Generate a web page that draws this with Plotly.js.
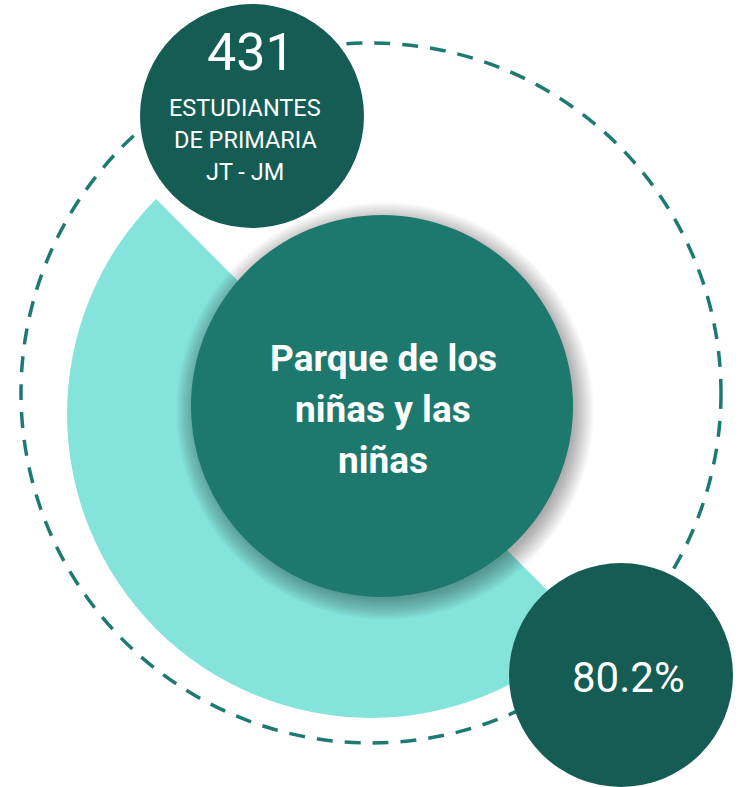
<!DOCTYPE html>
<html>
<head>
<meta charset="utf-8">
<script src="https://cdn.plot.ly/plotly-3.0.1.min.js"></script>
<style>
  html, body { margin: 0; padding: 0; background: #ffffff; }
  #chart { width: 744px; height: 787px; }
</style>
</head>
<body>
<div id="chart"></div>
<script>
// ---- data ----
const wedgeLabels = ['Resto', 'Parque'];
const wedgeShare = [50, 50];
const studentCount = 431;
const studentLabel = ['ESTUDIANTES', 'DE PRIMARIA', 'JT - JM'];
const percentValue = 80.2;
const centerTitle = ['Parque de los', 'niñas y las', 'niñas'];

// ---- layout constants (pixels) ----
const W = 744, H = 787;
const C_DARK = '#155C55', C_MID = '#1D786E', C_LIGHT = '#84E3DB', C_DASH = '#1D7A70';
const wedge = {cx: 371, cy: 414, r: 304};
const dashed = {cx: 371, cy: 393, r: 350};
const central = {cx: 382, cy: 406, r: 191};
const topCircle = {cx: 252, cy: 116, r: 112};
const botCircle = {cx: 621, cy: 675, r: 112};

function circ(c, extra) {
  return Object.assign({type: 'circle', xref: 'x', yref: 'y',
    x0: c.cx - c.r, x1: c.cx + c.r, y0: c.cy - c.r, y1: c.cy + c.r, layer: 'above'}, extra);
}

const shapes = [];
shapes.push(circ(dashed, {layer: 'below', line: {color: C_DASH, width: 3.5, dash: '16px,12px'}, fillcolor: 'rgba(0,0,0,0)'}));
// soft shadow for the central circle
for (let k = 22; k >= 1; k--) {
  shapes.push(circ({cx: central.cx + 3, cy: central.cy + 5, r: central.r + k - 4},
    {line: {width: 0}, fillcolor: 'rgba(0,0,0,0.014)'}));
}
shapes.push(circ(central, {line: {width: 0}, fillcolor: C_MID}));
shapes.push(circ(topCircle, {line: {width: 0}, fillcolor: C_DARK}));
shapes.push(circ(botCircle, {line: {width: 0}, fillcolor: C_DARK}));

const pie = {
  type: 'pie',
  labels: wedgeLabels,
  values: wedgeShare,
  sort: false,
  direction: 'counterclockwise',
  rotation: -45,
  hole: 0,
  textinfo: 'none',
  hoverinfo: 'skip',
  showlegend: false,
  marker: {colors: ['rgba(0,0,0,0)', C_LIGHT], line: {width: 0}},
  domain: {
    x: [(wedge.cx - wedge.r) / W, (wedge.cx + wedge.r) / W],
    y: [1 - (wedge.cy + wedge.r) / H, 1 - (wedge.cy - wedge.r) / H]
  }
};

function ann(text, x, y, size, bold) {
  return {text: bold ? '<b>' + text + '</b>' : text, x: x, y: y, xref: 'x', yref: 'y',
    xanchor: 'center', yanchor: 'middle', showarrow: false,
    font: {family: 'Roboto, sans-serif', size: size, color: '#ffffff'}};
}

const annotations = [];
annotations.push(ann(String(studentCount), 251, 52, 52, false));
const labelY = [108, 140, 172];
studentLabel.forEach((t, i) => annotations.push(ann(t, 245, labelY[i], 23.5, false)));
const titleY = [358, 409, 460];
centerTitle.forEach((t, i) => annotations.push(ann(t, 383, titleY[i], 37, true)));
annotations.push(ann(percentValue.toFixed(1) + '%', 628, 677, 42, false));

const layout = {
  width: W, height: H,
  margin: {l: 0, r: 0, t: 0, b: 0, pad: 0},
  paper_bgcolor: '#ffffff', plot_bgcolor: 'rgba(0,0,0,0)',
  xaxis: {range: [0, W], visible: false, fixedrange: true},
  yaxis: {range: [H, 0], visible: false, fixedrange: true},
  shapes: shapes,
  annotations: annotations,
  showlegend: false
};

Plotly.newPlot('chart', [pie], layout, {displayModeBar: false, staticPlot: true});
</script>
</body>
</html>
